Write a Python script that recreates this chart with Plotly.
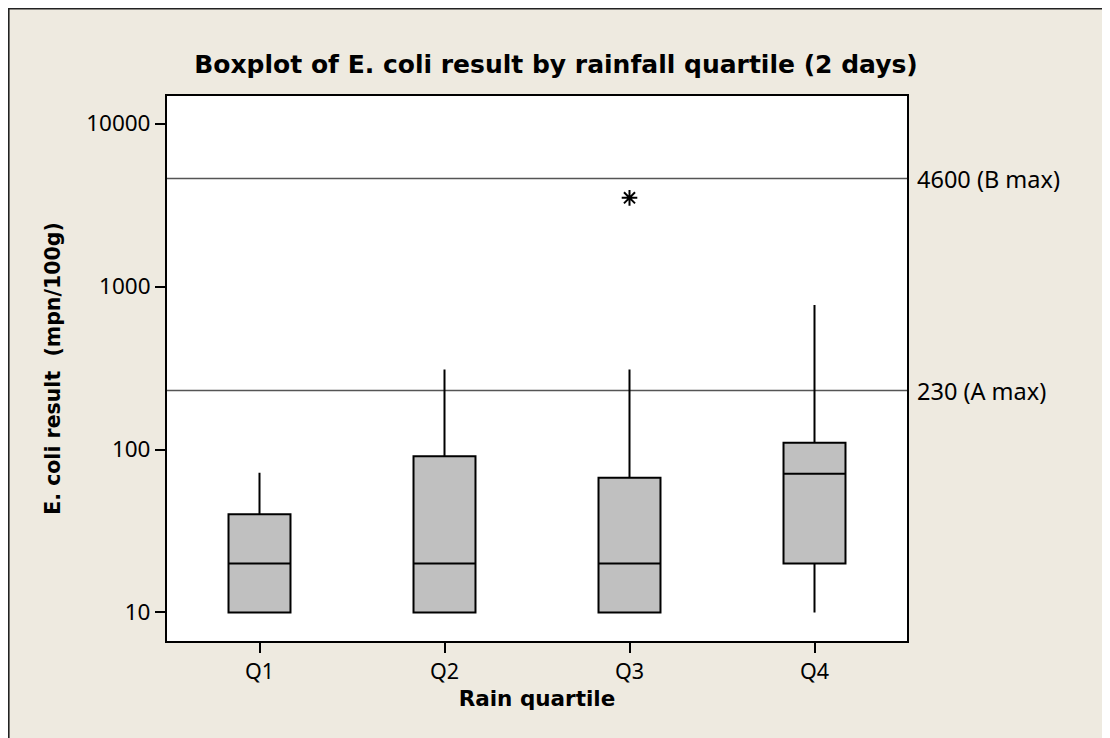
import math
import plotly.graph_objects as go

categories = ["Q1", "Q2", "Q3", "Q4"]
lower_whisker = [10, 10, 10, 10]
q1_vals = [10, 10, 10, 20]
medians = [20, 20, 20, 71]
q3_vals = [40, 91, 67, 110]
upper_whisker = [72, 310, 310, 770]
outlier_cat = ["Q3"]
outlier_val = [3500]
ref_values = [4600, 230]
ref_labels = ["4600 (B max)", "230 (A max)"]
y_ticks = [10, 100, 1000, 10000]
y_ticktext = ["10", "100", "1000", "10000"]

FONT = "Noto Sans, DejaVu Sans, sans-serif"
BOLD = "DejaVu Sans, sans-serif"

# figure is placed at (8, 8) in the page by the default body margin
FW, FH = 1102, 730
L, T, W, H = 159, 88, 740, 545

def px_x(p):
    return (p - L) / W

def px_y(p):
    return (T + H - p) / H

fig = go.Figure()
fig.add_trace(go.Box(
    x=categories, q1=q1_vals, median=medians, q3=q3_vals,
    lowerfence=lower_whisker, upperfence=upper_whisker,
    fillcolor="#C0C0C0", line=dict(color="black", width=2),
    whiskerwidth=0, width=0.335, boxpoints=False, showlegend=False,
    hoverinfo="skip",
))
fig.add_trace(go.Scatter(
    x=outlier_cat, y=outlier_val, mode="markers",
    marker=dict(symbol="asterisk-open", size=13, color="black",
                line=dict(color="black", width=2)),
    showlegend=False,
))

shapes = [
    dict(type="line", xref="paper", yref="paper",
         x0=px_x(0), x1=px_x(FW), y0=px_y(0.8), y1=px_y(0.8),
         line=dict(color="#222222", width=1.6), layer="below"),
    dict(type="line", xref="paper", yref="paper",
         x0=px_x(0.8), x1=px_x(0.8), y0=px_y(0), y1=px_y(FH),
         line=dict(color="#222222", width=1.6), layer="below"),
    dict(type="line", xref="paper", yref="paper",
         x0=px_x(FW - 1.5), x1=px_x(FW - 1.5), y0=px_y(0), y1=px_y(FH),
         line=dict(color="#888888", width=1.5), layer="below"),
]
annotations = []
for v, lab in zip(ref_values, ref_labels):
    shapes.append(dict(type="line", xref="x domain", yref="y",
                       x0=0, x1=1, y0=v, y1=v,
                       line=dict(color="#555555", width=1.5), layer="below"))
    annotations.append(dict(xref="paper", yref="y", x=1, y=math.log10(v),
                            text=lab, showarrow=False, xanchor="left",
                            xshift=8, yanchor="middle",
                            font=dict(family=FONT, size=23.5, color="black")))

fig.update_layout(
    width=FW, height=FH,
    margin=dict(l=L, r=FW - L - W, t=T, b=FH - T - H),
    paper_bgcolor="#EEEAE0", plot_bgcolor="white",
    font=dict(family=FONT, size=21, color="black"),
    title=dict(text="<b>Boxplot of E. coli result by rainfall quartile (2 days)</b>",
               x=px_x(548), xanchor="center", xref="paper",
               y=1 - 56 / FH, yanchor="middle",
               font=dict(family=BOLD, size=25, color="black")),
    shapes=shapes, annotations=annotations,
    xaxis=dict(type="category", categoryorder="array", categoryarray=categories,
               range=[-0.5, 3.5], showline=True, linecolor="black", linewidth=2,
               mirror=True, ticks="outside", ticklen=10, tickwidth=1.5,
               tickcolor="black", showgrid=False, zeroline=False,
               tickfont=dict(size=21.5),
               title=dict(text="<b>Rain quartile</b>", standoff=7,
                          font=dict(family=BOLD, size=21.5))),
    yaxis=dict(type="log", range=[0.825, 4.169], tickvals=y_ticks,
               ticktext=y_ticktext, showline=True, linecolor="black",
               linewidth=2, mirror=True, ticks="outside", ticklen=10,
               tickwidth=1.5, tickcolor="black", showgrid=False,
               zeroline=False, tickfont=dict(size=22.5),
               title=dict(text="<b>E. coli result  (mpn/100g)</b>", standoff=20,
                          font=dict(family=BOLD, size=20.5))),
)

fig.write_html("out.html")
